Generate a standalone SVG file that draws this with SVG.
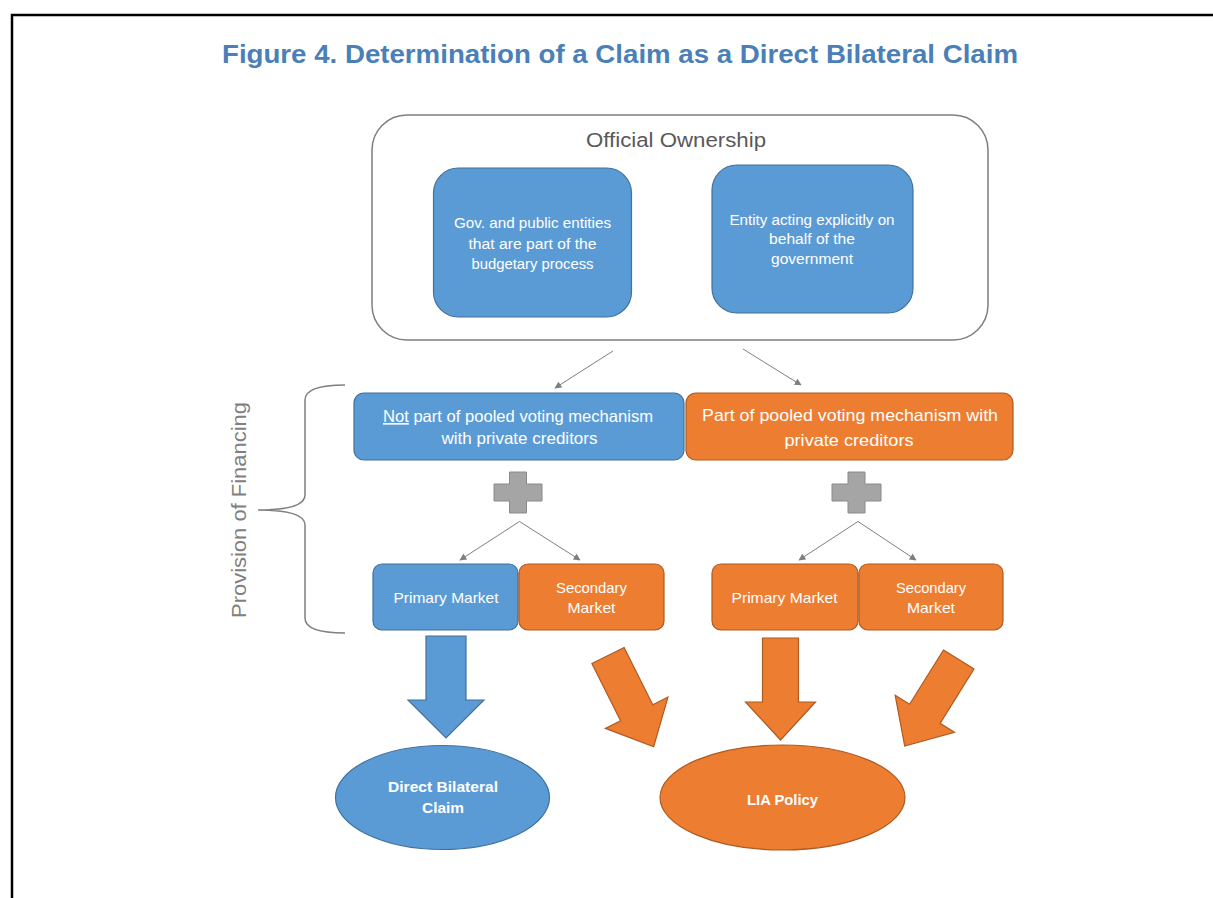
<svg xmlns="http://www.w3.org/2000/svg" width="1213" height="898" viewBox="0 0 1213 898">
<defs>
<style>
.blue{fill:#5b9bd5;stroke:#41719c;stroke-width:1.2}
.orange{fill:#ed7d31;stroke:#ae5a21;stroke-width:1.2}
.wt{font-family:"Liberation Sans",Arial,sans-serif;fill:#ffffff;text-anchor:middle}
.thin{stroke:#7f7f7f;stroke-width:1;fill:none}
.plus{fill:#a5a5a5;stroke:#8a8a8a;stroke-width:1}
</style>
<marker id="ah" viewBox="0 0 10 10" refX="9" refY="5" markerWidth="7" markerHeight="7" markerUnits="userSpaceOnUse" orient="auto">
<path d="M0,0 L10,5 L0,10 Z" fill="#7f7f7f"/>
</marker>
<path id="barrow" d="M-20,0 L20,0 L20,64 L38,64 L0,102 L-38,64 L-20,64 Z"/>
<path id="darrow" d="M-18,0 L18,0 L18,64 L35,64 L0,102 L-35,64 L-18,64 Z"/>
</defs>
<rect width="1213" height="898" fill="#ffffff"/>
<path d="M12,898 L12,15 L1213,15" fill="none" stroke="#000" stroke-width="2.5"/>
<text x="620" y="63" font-family="Liberation Sans,Arial,sans-serif" font-weight="bold" font-size="25" fill="#4a7fb8" text-anchor="middle" textLength="796" lengthAdjust="spacingAndGlyphs">Figure 4. Determination of a Claim as a Direct Bilateral Claim</text>

<g id="official-ownership">
<rect x="372" y="115" width="616" height="225" rx="35" fill="#fff" stroke="#7f7f7f" stroke-width="1.5"/>
<text x="676" y="147" font-family="Liberation Sans,Arial,sans-serif" font-size="20" fill="#595959" text-anchor="middle" textLength="180" lengthAdjust="spacingAndGlyphs">Official Ownership</text>
</g>
<g id="gov-entities">
<rect class="blue" x="433.5" y="168" width="198" height="149" rx="25"/>
<text class="wt" font-size="14"><tspan x="532.5" y="228" textLength="157" lengthAdjust="spacingAndGlyphs">Gov. and public entities</tspan><tspan x="532.5" y="249" textLength="128" lengthAdjust="spacingAndGlyphs">that are part of the</tspan><tspan x="532.5" y="269" textLength="122" lengthAdjust="spacingAndGlyphs">budgetary process</tspan></text>
</g>
<g id="entity-acting">
<rect class="blue" x="712" y="165" width="201" height="148" rx="25"/>
<text class="wt" font-size="14"><tspan x="812" y="225" textLength="165" lengthAdjust="spacingAndGlyphs">Entity acting explicitly on</tspan><tspan x="812" y="244" textLength="86" lengthAdjust="spacingAndGlyphs">behalf of the</tspan><tspan x="812" y="264" textLength="82" lengthAdjust="spacingAndGlyphs">government</tspan></text>
</g>

<g id="provision-bracket">
<path d="M345,385 Q305,385 305,400 L305,495 Q305,510 258,510 Q305,510 305,525 L305,618 Q305,633 345,633" fill="none" stroke="#7f7f7f" stroke-width="1.5"/>
<text transform="translate(246,510) rotate(-90)" x="0" y="0" font-family="Liberation Sans,Arial,sans-serif" font-size="20" fill="#7f7f7f" text-anchor="middle" textLength="216" lengthAdjust="spacingAndGlyphs">Provision of Financing</text>
</g>

<g id="not-pooled">
<rect class="blue" x="354" y="393" width="330" height="67" rx="10"/>
<text class="wt" font-size="16.5"><tspan x="518" y="422" textLength="270" lengthAdjust="spacingAndGlyphs"><tspan text-decoration="underline">Not</tspan> part of pooled voting mechanism</tspan><tspan x="519.5" y="444" textLength="156" lengthAdjust="spacingAndGlyphs">with private creditors</tspan></text>
</g>
<g id="pooled">
<rect class="orange" x="686" y="393" width="327" height="67" rx="10"/>
<text class="wt" font-size="16.5"><tspan x="850" y="421" textLength="296" lengthAdjust="spacingAndGlyphs">Part of pooled voting mechanism with</tspan><tspan x="849" y="446" textLength="129" lengthAdjust="spacingAndGlyphs">private creditors</tspan></text>
</g>

<g id="plus-left">
<path class="plus" d="M509.5,472 L526.5,472 L526.5,484 L542,484 L542,501 L526.5,501 L526.5,513 L509.5,513 L509.5,501 L494,501 L494,484 L509.5,484 Z"/>
</g>
<g id="plus-right">
<path class="plus" d="M848,472 L865,472 L865,484 L881,484 L881,501 L865,501 L865,513 L848,513 L848,501 L832,501 L832,484 L848,484 Z"/>
</g>

<g id="primary-left">
<rect class="blue" x="373" y="564" width="145" height="66" rx="9"/>
<text class="wt" font-size="14.5" x="446" y="603" textLength="105" lengthAdjust="spacingAndGlyphs">Primary Market</text>
</g>
<g id="secondary-left">
<rect class="orange" x="519" y="564" width="145" height="66" rx="9"/>
<text class="wt" font-size="14.5"><tspan x="591.5" y="593" textLength="71" lengthAdjust="spacingAndGlyphs">Secondary</tspan><tspan x="591.5" y="613" textLength="48" lengthAdjust="spacingAndGlyphs">Market</tspan></text>
</g>
<g id="primary-right">
<rect class="orange" x="712" y="564" width="146" height="66" rx="9"/>
<text class="wt" font-size="14.5" x="784.5" y="603" textLength="106" lengthAdjust="spacingAndGlyphs">Primary Market</text>
</g>
<g id="secondary-right">
<rect class="orange" x="859" y="564" width="144" height="66" rx="9"/>
<text class="wt" font-size="14.5"><tspan x="931" y="593" textLength="70" lengthAdjust="spacingAndGlyphs">Secondary</tspan><tspan x="931" y="613" textLength="48" lengthAdjust="spacingAndGlyphs">Market</tspan></text>
</g>

<g id="direct-bilateral">
<ellipse class="blue" cx="442.5" cy="797.5" rx="107" ry="52"/>
<text class="wt" font-size="14.5" font-weight="bold"><tspan x="443" y="792" textLength="110" lengthAdjust="spacingAndGlyphs">Direct Bilateral</tspan><tspan x="443" y="813" textLength="42" lengthAdjust="spacingAndGlyphs">Claim</tspan></text>
</g>
<g id="lia-policy">
<ellipse class="orange" cx="782.5" cy="797.5" rx="122.5" ry="52.5"/>
<text class="wt" font-size="14.5" font-weight="bold" x="782.5" y="805" textLength="71" lengthAdjust="spacingAndGlyphs">LIA Policy</text>
</g>

<g id="connectors">
<line class="thin" x1="613" y1="351" x2="555" y2="388" marker-end="url(#ah)"/>
<line class="thin" x1="743" y1="349" x2="801" y2="385" marker-end="url(#ah)"/>
<line class="thin" x1="519.5" y1="521.5" x2="460" y2="560" marker-end="url(#ah)"/>
<line class="thin" x1="519.5" y1="521.5" x2="580" y2="560" marker-end="url(#ah)"/>
<line class="thin" x1="858" y1="521.5" x2="799" y2="560" marker-end="url(#ah)"/>
<line class="thin" x1="858" y1="521.5" x2="916" y2="560" marker-end="url(#ah)"/>
<use href="#barrow" class="blue" transform="translate(446,636)"/>
<use href="#darrow" class="orange" transform="translate(608,655.5) rotate(-26.6)"/>
<use href="#darrow" class="orange" transform="translate(780.5,638)" />
<use href="#darrow" class="orange" transform="translate(958.75,659.5) rotate(32)"/>
</g>
</svg>
